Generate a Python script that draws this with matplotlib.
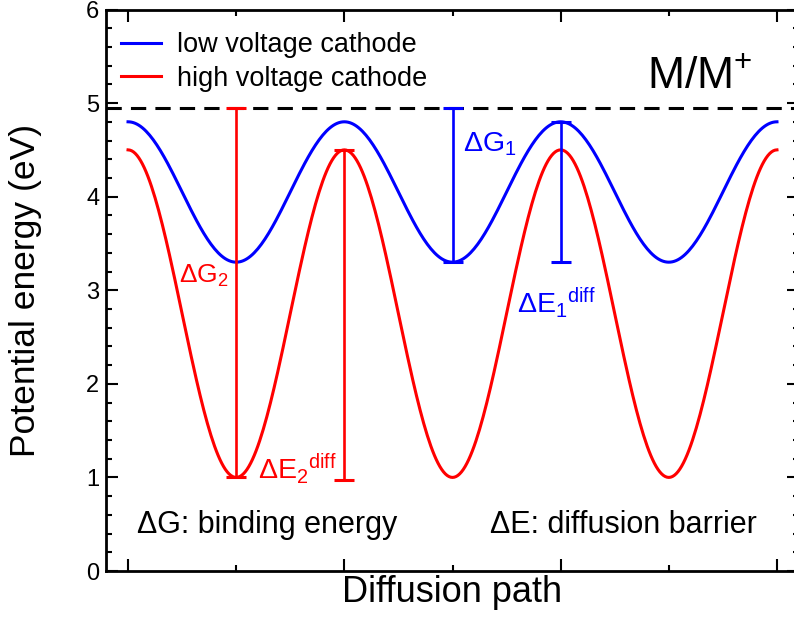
import numpy as np
import matplotlib
matplotlib.use("Agg")
import matplotlib.pyplot as plt
from matplotlib.ticker import MultipleLocator

plt.rcParams['font.family'] = ['Liberation Sans', 'DejaVu Sans']
plt.rcParams['mathtext.fontset'] = 'custom'
plt.rcParams['mathtext.rm'] = 'Liberation Sans'
plt.rcParams['mathtext.it'] = 'Liberation Sans'
plt.rcParams['mathtext.default'] = 'regular'

# ---- data ----
# extrema (key points) along the diffusion path
path_x = [0, 1, 2, 3, 4, 5, 6]
low_voltage = [4.8, 3.3, 4.8, 3.3, 4.8, 3.3, 4.8]
high_voltage = [4.5, 1.0, 4.5, 1.0, 4.5, 1.0, 4.5]
reference_level = 4.95

# annotation bars: x, bottom, top
bar_red_x = [1, 2]
bar_red_lo = [1.0, 0.97]
bar_red_hi = [4.95, 4.5]
bar_blue_x = [3, 4]
bar_blue_lo = [3.3, 3.3]
bar_blue_hi = [4.95, 4.8]

legend_labels = ['low voltage cathode', 'high voltage cathode']


def smooth(xk, yk, n=60):
    """Half-cosine blend between consecutive key points."""
    xs, ys = [], []
    for i in range(len(xk) - 1):
        t = np.linspace(0, 1, n, endpoint=(i == len(xk) - 2))
        w = (1 - np.cos(np.pi * t)) / 2
        xs.append(xk[i] + (xk[i + 1] - xk[i]) * t)
        ys.append(yk[i] + (yk[i + 1] - yk[i]) * w)
    return np.concatenate(xs), np.concatenate(ys)


W, H = 794, 617
fig = plt.figure(figsize=(W / 100, H / 100), dpi=100)
ax = fig.add_axes([106.4 / W, 1 - 571 / H, 692.2 / W, 561.5 / H])

blue = '#0000ff'
red = '#ff0000'
lw = 2.2

xb, yb = smooth(path_x, low_voltage)
xr, yr = smooth(path_x, high_voltage)
ax.plot(xb, yb, color=blue, lw=lw, label=legend_labels[0])
ax.plot(xr, yr, color=red, lw=lw, label=legend_labels[1])

ax.axhline(reference_level, color='black', lw=2.2, linestyle=(0, (5, 3)))

for xs, lo, hi, c in [(bar_red_x, bar_red_lo, bar_red_hi, red),
                      (bar_blue_x, bar_blue_lo, bar_blue_hi, blue)]:
    for x, l, h in zip(xs, lo, hi):
        mid = (l + h) / 2
        ax.errorbar([x], [mid], yerr=[[mid - l], [h - mid]], fmt='none',
                    ecolor=c, elinewidth=1.9, capsize=7.2, capthick=2.2)

ax.set_xlim(-0.2, 6.2)
ax.set_ylim(0, 6)
ax.xaxis.set_major_locator(MultipleLocator(2))
ax.xaxis.set_minor_locator(MultipleLocator(1))
ax.yaxis.set_major_locator(MultipleLocator(1))
ax.yaxis.set_minor_locator(MultipleLocator(0.2))
ax.tick_params(which='both', direction='in', top=True, right=True,
               width=1.5, labelsize=17, labelbottom=False, pad=5)
ax.tick_params(which='major', length=8.6)
ax.tick_params(which='minor', length=4.3)
for s in ax.spines.values():
    s.set_linewidth(2)

ax.set_xlabel('Diffusion path', fontsize=26, labelpad=3)
ax.set_ylabel('Potential energy (eV)', fontsize=25.5, labelpad=32)

ax.text(0.47, 3.08, '$ΔG_2$', color=red, fontsize=19)
ax.text(1.20, 0.99, '$ΔE_2{}^{diff}$', color=red, fontsize=20.5)
ax.text(3.10, 4.48, '$ΔG_1$', color=blue, fontsize=20.5)
ax.text(3.60, 2.76, '$ΔE_1{}^{diff}$', color=blue, fontsize=20.5)
ax.text(0.083, 0.41, 'ΔG: binding energy', fontsize=22)
ax.text(3.35, 0.41, 'ΔE: diffusion barrier', fontsize=22)
ax.text(4.80, 5.16, '$M/M^{+}$', fontsize=32)

ax.legend(loc='upper left', bbox_to_anchor=(0.006, 0.979), frameon=False,
          fontsize=19.5, handlelength=1.48, handletextpad=0.56,
          labelspacing=0.28, borderaxespad=0.0, borderpad=0.4)

fig.savefig('out.png', dpi=100)
